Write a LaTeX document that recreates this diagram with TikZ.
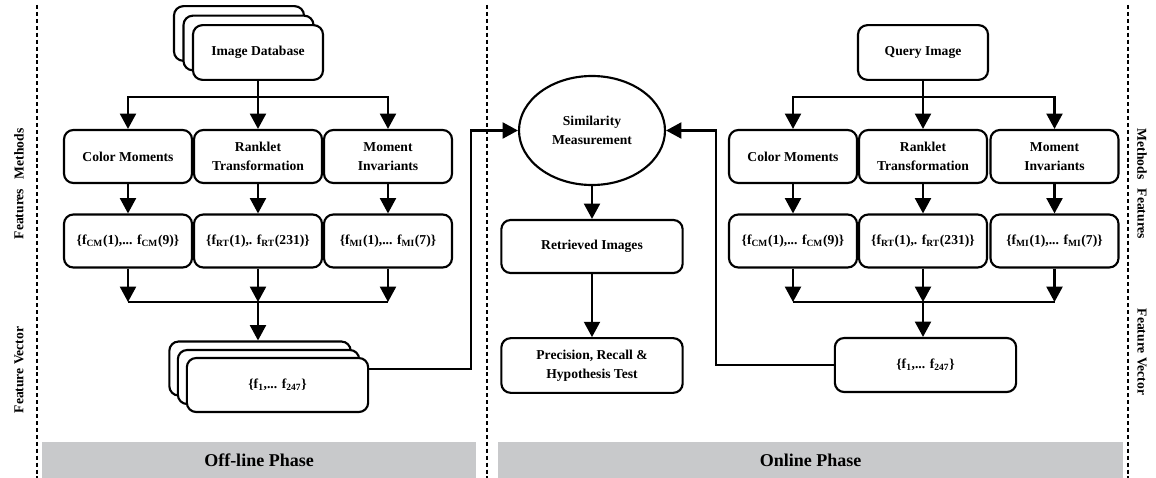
\documentclass[tikz,border=0pt]{standalone}
\usepackage{fontspec}
\setmainfont{Liberation Serif}
\usetikzlibrary{arrows.meta}
\usetikzlibrary{shapes}
\definecolor{barGray}{RGB}{200,201,203}

\begin{document}
\begin{tikzpicture}[x=0.75pt,y=-0.75pt,
    font=\fontsize{10.2}{14}\selectfont\bfseries,
    box/.style={draw,rectangle,rounded corners=7pt,line width=1.6pt,fill=white,align=center,inner sep=0pt,minimum width=96pt,minimum height=39.75pt},
    dbox/.style={box,minimum width=97.5pt,minimum height=41pt},
    wbox/.style={box,minimum width=136pt,minimum height=40.5pt},
    arr/.style={line width=1.6pt,-{Triangle[width=12pt,length=11.5pt]}},
    ln/.style={line width=1.6pt},
    sep/.style={line width=1.7pt,dash pattern=on 3pt off 2.2pt},
    bar/.style={fill=barGray,inner sep=0pt,minimum height=27pt,font=\fontsize{13.5}{16}\selectfont\bfseries}]
    \useasboundingbox (0,0) rectangle (1156,478);

    \draw[sep] (37,5) -- (37,478);
    \draw[sep] (487,5) -- (487,478);
    \draw[sep] (1128,5) -- (1128,478);

    \node (t1) at (19,154)[rotate=90]{Methods};
    \node (t2) at (19,214)[rotate=90]{Features};
    \node (t3) at (19,370)[rotate=90]{Feature Vector};
    \node (t4) at (1142,154)[rotate=-90]{Methods};
    \node (t5) at (1142,214)[rotate=-90]{Features};
    \node (t6) at (1142,352)[rotate=-90]{Feature Vector};

    \node (b1) at (259,460)[bar,minimum width=325.5pt]{Off-line Phase};
    \node (b2) at (810.5,460)[bar,minimum width=468.75pt]{Online Phase};

    \node (n1c) at (239,33.5)[dbox]{};
    \node (n1b) at (248.5,43)[dbox]{};
    \node (n1) at (258,52.5)[dbox]{Image Database};
    \node (n2) at (128,156.5)[box]{Color Moments};
    \node (n3) at (258,156.5)[box]{Ranklet\\Transformation};
    \node (n4) at (388,156.5)[box]{Moment\\Invariants};
    \node (n5) at (128,241)[box]{\{f\textsubscript{CM}(1),... f\textsubscript{CM}(9)\}};
    \node (n6) at (258,241)[box]{\{f\textsubscript{RT}(1),. f\textsubscript{RT}(231)\}};
    \node (n7) at (388,241)[box]{\{f\textsubscript{MI}(1),... f\textsubscript{MI}(7)\}};
    \node (n8c) at (260,368.5)[wbox]{};
    \node (n8b) at (268.5,377)[wbox]{};
    \node (n8) at (277.5,385)[wbox]{\{f\textsubscript{1},... f\textsubscript{247}\}};

    \node (n9) at (592,130.5)[draw,ellipse,line width=1.6pt,inner sep=0pt,minimum width=109.5pt,minimum height=81.75pt,align=center]{Similarity\\Measurement};
    \node (n10) at (592,246.5)[wbox,minimum height=39.75pt]{Retrieved Images};
    \node (n11) at (592,365.5)[wbox,minimum height=41pt]{Precision, Recall \&\\Hypothesis Test};

    \node (m1) at (923,52.5)[dbox]{Query Image};
    \node (m2) at (793,156.5)[box]{Color Moments};
    \node (m3) at (923,156.5)[box]{Ranklet\\Transformation};
    \node (m4) at (1054.5,156.5)[box]{Moment\\Invariants};
    \node (m5) at (793,241)[box]{\{f\textsubscript{CM}(1),... f\textsubscript{CM}(9)\}};
    \node (m6) at (923,241)[box]{\{f\textsubscript{RT}(1),. f\textsubscript{RT}(231)\}};
    \node (m7) at (1054.5,241)[box]{\{f\textsubscript{MI}(1),... f\textsubscript{MI}(7)\}};
    \node (m8) at (925.5,365)[wbox]{\{f\textsubscript{1},... f\textsubscript{247}\}};

    \draw[arr] (n1) -- (n3);
    \draw[arr] (n1.south) -- ++(0,16) -| (n2.north);
    \draw[arr] (n1.south) -- ++(0,16) -| (n4.north);
    \draw[arr] (n2) -- (n5);
    \draw[arr] (n3) -- (n6);
    \draw[arr] (n4) -- (n7);
    \coordinate (j1) at (258,302);
    \draw[ln] (n5.south |- j1) -- (n7.south |- j1);
    \draw[arr] (n5.south) -- (n5.south |- j1);
    \draw[arr] (n6.south) -- (j1);
    \draw[arr] (n7.south) -- (n7.south |- j1);
    \draw[arr] (j1) -- (j1 |- n8c.north);

    \coordinate (c1) at (471,369);
    \draw[arr] (c1 -| n8.east) -- (c1) |- (n9.west);
    \draw[arr] (n9) -- (n10);
    \draw[arr] (n10) -- (n11);
    \coordinate (c2) at (716,365);
    \draw[arr] (c2 -| m8.west) -- (c2) |- (n9.east);

    \draw[arr] (m1) -- (m3);
    \draw[arr] (m1.south) -- ++(0,16) -| (m2.north);
    \draw[arr] (m1.south) -- ++(0,16) -| (m4.north);
    \draw[arr] (m2) -- (m5);
    \draw[arr] (m3) -- (m6);
    \draw[arr] (m4) -- (m7);
    \coordinate (j2) at (923,302);
    \draw[ln] (m5.south |- j2) -- (m7.south |- j2);
    \draw[arr] (m5.south) -- (m5.south |- j2);
    \draw[arr] (m6.south) -- (j2);
    \draw[arr] (m7.south) -- (m7.south |- j2);
    \draw[arr] (j2) -- (j2 |- m8.north);
\end{tikzpicture}
\end{document}
